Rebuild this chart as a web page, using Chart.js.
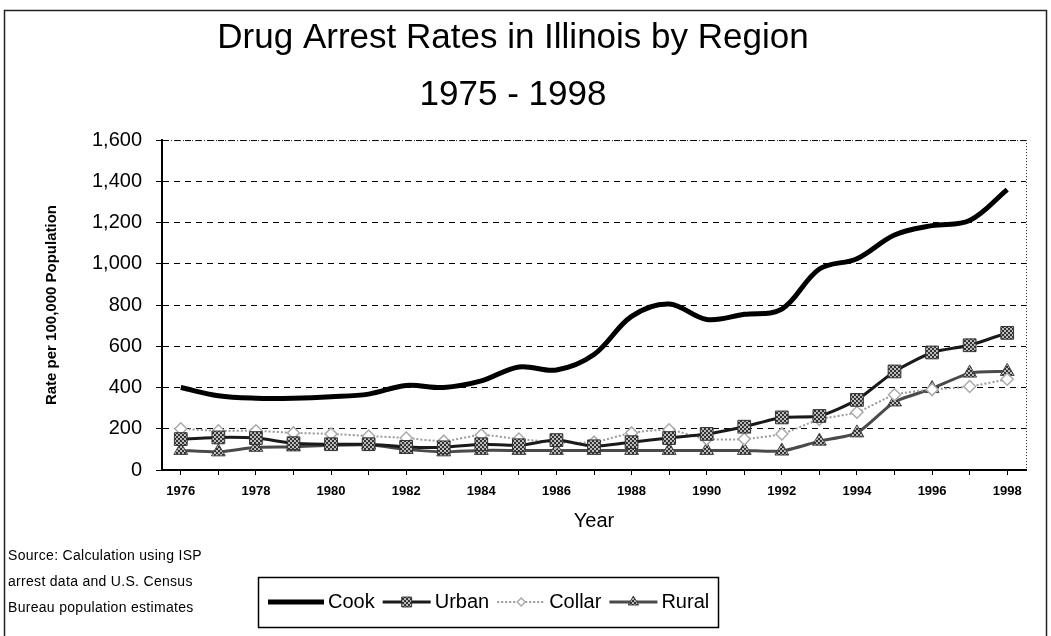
<!DOCTYPE html>
<html>
<head>
<meta charset="utf-8">
<script src="https://cdn.jsdelivr.net/npm/chart.js@4.4.0/dist/chart.umd.min.js"></script>
<style>
  html, body { margin: 0; padding: 0; background: #fff; }
</style>
</head>
<body>
<canvas id="chart-drug-arrests" width="1051" height="636"></canvas>
<script>
// values (rate per 100,000 population)
const years = ['1976', '1977', '1978', '1979', '1980', '1981', '1982', '1983', '1984', '1985', '1986', '1987',
               '1988', '1989', '1990', '1991', '1992', '1993', '1994', '1995', '1996', '1997', '1998'];
const cook   = [400, 360, 348, 348, 355, 368, 410, 400, 432, 500, 485, 560, 745, 805, 730, 755, 780, 975, 1025, 1140, 1185, 1210, 1360];
const urban  = [150, 158, 155, 130, 125, 125, 112, 110, 125, 120, 145, 115, 135, 155, 175, 210, 255, 262, 340, 478, 570, 605, 665];
const collar = [200, 190, 190, 180, 175, 165, 155, 140, 170, 150, 135, 135, 180, 195, 150, 150, 175, 245, 280, 365, 390, 405, 440];
const rural  = [95, 88, 110, 112, 120, 122, 100, 88, 95, 95, 95, 95, 95, 95, 95, 95, 92, 140, 180, 330, 395, 470, 478];
const yTicks = [0, 200, 400, 600, 800, 1000, 1200, 1400, 1600];

const sourceNote = ['Source: Calculation using ISP', 'arrest data and U.S. Census', 'Bureau population estimates'];

const FONT = "'Liberation Sans', Arial, sans-serif";

// little hatch pattern, the markers in the print are dithered grey
function hatch(dark, light) {
  const c = document.createElement('canvas');
  c.width = 4; c.height = 4;
  const g = c.getContext('2d');
  g.fillStyle = light; g.fillRect(0, 0, 4, 4);
  g.fillStyle = dark;
  g.fillRect(0, 0, 2, 2); g.fillRect(2, 2, 2, 2);
  return g.createPattern(c, 'repeat');
}
const ctxDrug = document.getElementById('chart-drug-arrests').getContext('2d');
const markFill = hatch('#333', '#bbb');

// plot frame (dotted top/right), page border, source note and boxed legend
const extras = {
  id: 'extras',
  afterDraw(chart) {
    const ctx = chart.ctx;
    const a = chart.chartArea;
    ctx.save();
    ctx.strokeStyle = '#222';
    ctx.lineWidth = 1;
    ctx.setLineDash([1, 2]);
    ctx.beginPath();
    ctx.moveTo(a.left, a.top + 0.5); ctx.lineTo(a.right + 0.5, a.top + 0.5);
    ctx.lineTo(a.right + 0.5, a.bottom);
    ctx.stroke();
    ctx.setLineDash([]);
    ctx.lineWidth = 1.5;
    ctx.strokeRect(4.5, 10.5, 1042, 640);

    ctx.fillStyle = '#000';
    ctx.font = '14px ' + FONT;
    ctx.letterSpacing = '0.3px';
    ctx.textBaseline = 'middle';
    ctx.textAlign = 'left';
    sourceNote.forEach((t, i) => ctx.fillText(t, 8, 556 + i * 26));
    ctx.letterSpacing = '0px';

    // legend
    ctx.lineWidth = 1.5;
    ctx.strokeStyle = '#000';
    ctx.strokeRect(258.5, 577.5, 460, 50);
    ctx.font = '20px ' + FONT;
    let x = 268;
    const y = 602;
    chart.data.datasets.forEach(ds => {
      const len = ds.label === 'Cook' ? 56 : 48;
      ctx.save();
      ctx.strokeStyle = ds.borderColor;
      ctx.lineWidth = ds.borderWidth;
      ctx.setLineDash(ds.borderDash || []);
      ctx.beginPath();
      ctx.moveTo(x, y); ctx.lineTo(x + len, y);
      ctx.stroke();
      ctx.restore();
      if (ds.pointRadius > 0) {
        ctx.save();
        ctx.fillStyle = ds.pointBackgroundColor;
        ctx.strokeStyle = ds.pointBorderColor;
        ctx.lineWidth = ds.pointBorderWidth;
        Chart.helpers.drawPoint(ctx, { pointStyle: ds.pointStyle, radius: ds.pointRadius - 2, rotation: 0, borderWidth: ds.pointBorderWidth }, x + len / 2, y);
        ctx.restore();
      }
      ctx.fillStyle = '#000';
      ctx.fillText(ds.label, x + len + 4, y);
      x += len + 4 + ctx.measureText(ds.label).width + 8;
    });
    ctx.restore();
  }
};

new Chart(ctxDrug, {
  type: 'line',
  data: {
    labels: years,
    datasets: [
      {
        label: 'Cook',
        data: cook,
        borderColor: '#000',
        borderWidth: 5,
        pointRadius: 0,
        tension: 0.35
      },
      {
        label: 'Urban',
        data: urban,
        borderColor: '#1a1a1a',
        borderWidth: 3,
        pointStyle: 'rect',
        pointRadius: 9,
        pointBackgroundColor: markFill,
        pointBorderColor: '#333',
        pointBorderWidth: 1,
        tension: 0.2
      },
      {
        label: 'Collar',
        data: collar,
        borderColor: '#9a9a9a',
        borderWidth: 2,
        borderDash: [2, 2],
        pointStyle: 'rectRot',
        pointRadius: 6,
        pointBackgroundColor: '#fff',
        pointBorderColor: '#aaa',
        pointBorderWidth: 1.5,
        tension: 0.2
      },
      {
        label: 'Rural',
        data: rural,
        borderColor: '#4a4a4a',
        borderWidth: 3,
        pointStyle: 'triangle',
        pointRadius: 8,
        pointBackgroundColor: markFill,
        pointBorderColor: '#444',
        pointBorderWidth: 1,
        tension: 0.2
      }
    ]
  },
  options: {
    responsive: false,
    animation: false,
    layout: { padding: { left: 0, right: 25, top: 0, bottom: 100 } },
    plugins: {
      legend: { display: false },
      tooltip: { enabled: false },
      title: {
        display: true,
        text: ['Drug Arrest Rates in Illinois by Region', '1975 - 1998'],
        color: '#000',
        font: { family: FONT, size: 35, weight: 'normal', lineHeight: 1.63 },
        padding: { top: 10, bottom: 16 }
      }
    },
    scales: {
      x: {
        type: 'category',
        offset: true,
        afterFit: s => { s.height = 66; },
        grid: { drawOnChartArea: false, drawTicks: true, tickLength: 5, color: '#000' },
        border: { display: true, color: '#000', width: 2 },
        ticks: {
          autoSkip: false,
          maxRotation: 0,
          padding: 9,
          color: '#000',
          font: { family: FONT, size: 13, weight: 'bold' },
          callback: function (v, i) { return i % 2 === 0 ? this.getLabelForValue(v) : ''; }
        },
        title: {
          display: true,
          text: 'Year',
          color: '#000',
          font: { family: FONT, size: 20 },
          padding: { top: 0, bottom: 3 }
        }
      },
      y: {
        min: 0,
        max: 1600,
        afterFit: s => { s.width = 162; },
        afterBuildTicks: s => { s.ticks = yTicks.map(v => ({ value: v })); },
        grid: { color: '#000', lineWidth: 1, tickLength: 6, drawTicks: true },
        border: { display: true, color: '#000', width: 2, dash: [6, 5] },
        ticks: {
          padding: 14,
          color: '#000',
          font: { family: FONT, size: 20 },
          callback: v => v.toLocaleString('en-US')
        },
        title: {
          display: true,
          text: 'Rate per 100,000 Population',
          color: '#000',
          font: { family: FONT, size: 15, weight: 'bold' },
          padding: { top: 43, bottom: 0 }
        }
      }
    }
  },
  plugins: [extras]
});
</script>
</body>
</html>
